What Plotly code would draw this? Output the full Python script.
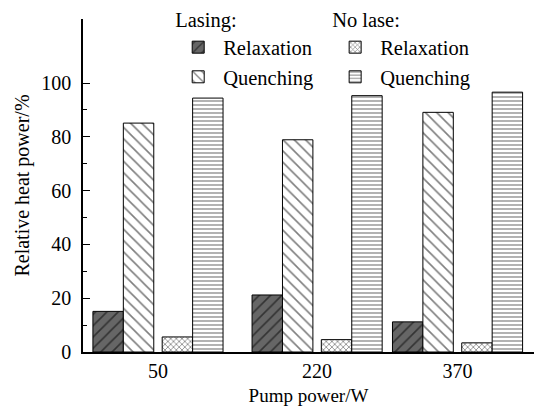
import plotly.graph_objects as go

pump_power = [50, 220, 370]
lasing_relaxation = [15.1, 21.2, 11.2]
lasing_quenching = [85.1, 78.9, 89.1]
nolase_relaxation = [5.6, 4.6, 3.4]
nolase_quenching = [94.4, 95.3, 96.6]
y_ticks = [0, 20, 40, 60, 80, 100]

FONT = "Liberation Serif"
W = 32.5

series = [
    ("Relaxation", lasing_relaxation, "legend", -69.5, "/", "#666666", 8, 0.2),
    ("Quenching", lasing_quenching, "legend", -37.0, "\\", "white", 8, 0.2),
    ("Relaxation", nolase_relaxation, "legend2", 4.5, "x", "white", 4, 0.35),
    ("Quenching", nolase_quenching, "legend2", 37.0, "-", "white", 4, 0.3),
]

fig = go.Figure()
for name, vals, leg, off, shape, bg, size, sol in series:
    fig.add_trace(go.Bar(
        x=pump_power, y=vals, name=name, legend=leg,
        offset=off, width=W,
        marker=dict(color=bg, line=dict(color="black", width=1),
                    pattern=dict(shape=shape, fgcolor="black", bgcolor=bg,
                                 size=size, solidity=sol, fillmode="overlay")),
    ))

lfont = dict(family=FONT, size=20.5, color="black")
afont = dict(family=FONT, size=20, color="black")
leg_common = dict(
    font=lfont,
    bgcolor="rgba(0,0,0,0)", yanchor="top", xanchor="left",
    tracegroupgap=0, itemwidth=40,
)
fig.update_layout(
    width=534, height=416,
    margin=dict(l=83, r=0, t=19, b=64),
    paper_bgcolor="white", plot_bgcolor="white",
    barmode="overlay",
    font=afont,
    legend=dict(title=dict(text="Lasing:", side="top", font=lfont), x=0.2, y=1.055, **leg_common),
    legend2=dict(title=dict(text="No lase:", side="top", font=lfont), x=0.548, y=1.055, **leg_common),
    xaxis=dict(range=[-30.1, 451.7], tickvals=pump_power, ticks="", showline=True,
               linecolor="black", linewidth=1.5, showgrid=False, zeroline=False,
               tickfont=afont,
               title=dict(text="Pump power/W", font=dict(family=FONT, size=19, color="black"), standoff=8)),
    yaxis=dict(range=[0, 123.8], tickvals=y_ticks, ticks="inside", ticklen=7, tickwidth=1,
               tickcolor="black", showline=True, linecolor="black", linewidth=1.5,
               showgrid=False, zeroline=False, ticklabelstandoff=6,
               minor=dict(tickvals=[10, 30, 50, 70, 90], ticks="inside", ticklen=4,
                          tickcolor="black"),
               tickfont=afont,
               title=dict(text="Relative heat power/%", font=afont, standoff=6)),
)
fig.write_html("out.html")
